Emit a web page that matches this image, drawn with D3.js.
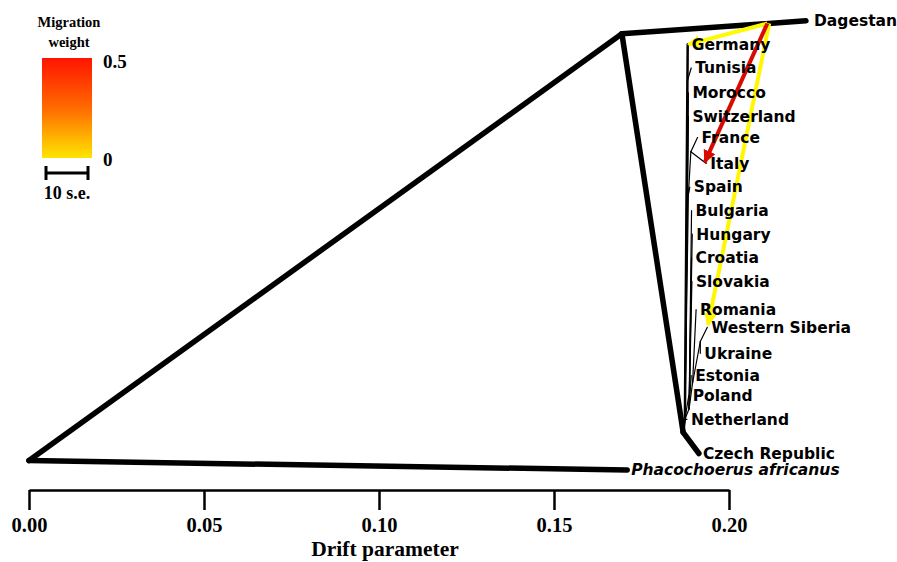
<!DOCTYPE html>
<html><head><meta charset="utf-8">
<script src="https://cdn.jsdelivr.net/npm/d3@7"></script>
<style>body{margin:0;background:#fff}svg{display:block}</style>
</head><body><svg id="c" width="897" height="562"></svg>
<script>
// ---- tree nodes (name, drift, vertical rank) ----
const nodeNames = ["R","Phacochoerus africanus","N1","Dagestan","N2","Czech Republic","N3",
  "Germany","T","Tunisia","Morocco","Switzerland","SP","Spain","FI","France","Italy",
  "B","Bulgaria","Hungary","Croatia","Slovakia","B2","Romania","U","Western Siberia","Ukraine",
  "Estonia","Poland","Netherland"];
const nodeDrift = [0,0.1709,0.1694,0.2220,0.1869,0.1914,0.1874,
  0.1882,0.1881,0.1892,0.1884,0.1884,0.1884,0.1888,0.1891,0.1910,0.1935,
  0.1886,0.1893,0.1895,0.1893,0.1894,0.1896,0.1906,0.1918,0.1938,0.1918,
  0.1892,0.1885,0.1880];
const nodeRank = [18.6,19.0,0.5,-0.05,17.4,18.3,16.85,
  0.95,2.5,1.95,3.0,4.0,7.3,7.0,5.5,4.9,6.0,
  16.4,8.0,9.0,10.0,11.0,15.3,12.2,13.55,12.95,14.05,
  15.0,15.85,16.85];
// ---- tree edges ----
const edgeFrom = ["R","R","N1","N1","N2","N2","N3","N3","T","N3","N3","N3","SP","SP","FI","FI",
  "N3","B","B","B","B","B","B2","B2","U","U","B","N3","N3"];
const edgeTo = ["Phacochoerus africanus","N1","Dagestan","N2","Czech Republic","N3","Germany","T","Tunisia",
  "Morocco","Switzerland","SP","Spain","FI","France","Italy","B","Bulgaria","Hungary","Croatia","Slovakia",
  "B2","Romania","U","Western Siberia","Ukraine","Estonia","Poland","Netherland"];
const leafNames = ["Dagestan","Germany","Tunisia","Morocco","Switzerland","France","Italy","Spain",
  "Bulgaria","Hungary","Croatia","Slovakia","Romania","Western Siberia","Ukraine","Estonia","Poland",
  "Netherland","Czech Republic","Phacochoerus africanus"];
// ---- migration edges ----
const migSourceEdge = ["Dagestan","Dagestan","Dagestan"];
const migSourceFrac = [0.79,0.80,0.79];
const migTargetDrift = [0.1884,0.1940,0.1931];
const migTargetRank = [0.95,12.85,5.94];
const migWeight = [0.01,0.02,0.48];
const xTicks = [0,0.05,0.10,0.15,0.20];

const svg = d3.select("#c");
const x = d3.scaleLinear().domain([0,0.2]).range([29,729]);
const y = d3.scaleLinear().domain([0,19]).range([22,470]);
const node = {};
nodeNames.forEach((n,i)=>node[n]={d:nodeDrift[i],r:nodeRank[i]});

const thick = new Set(["R>Phacochoerus africanus","R>N1","N1>Dagestan","N1>N2","N2>Czech Republic"]);
const medium = new Set(["N2>N3","N3>Germany"]);
const edges = edgeFrom.map((f,i)=>({f,t:edgeTo[i]}));
svg.append("g").selectAll("line").data(edges).join("line")
  .attr("x1",e=>x(node[e.f].d)).attr("y1",e=>y(node[e.f].r))
  .attr("x2",e=>x(node[e.t].d)).attr("y2",e=>y(node[e.t].r))
  .attr("stroke","#000")
  .attr("stroke-width",e=>{const k=e.f+">"+e.t;return thick.has(k)?5.5:medium.has(k)?2.5:1.2;})
  .attr("stroke-linecap","round");

// migration
const mcol = d3.scaleLinear().domain([0,0.25,0.5]).range(["#ffff00","#ff8c00","#d40000"]);
const defs = svg.append("defs");
const migs = migWeight.map((w,i)=>{
  const e = edges.find(q=>q.t===migSourceEdge[i]);
  const a=node[e.f], b=node[e.t], fr=migSourceFrac[i];
  return {w, sd:a.d+(b.d-a.d)*fr, sr:a.r+(b.r-a.r)*fr, td:migTargetDrift[i], tr:migTargetRank[i], i};
});
migs.forEach(m=>{
  defs.append("marker").attr("id","ah"+m.i).attr("viewBox","0 0 10 10").attr("refX",9).attr("refY",5)
    .attr("markerWidth",3.2).attr("markerHeight",3.2).attr("orient","auto").attr("markerUnits","strokeWidth")
    .append("path").attr("d","M0,0 L10,5 L0,10 z").attr("fill",mcol(m.w));
});
svg.append("g").selectAll("line").data(migs).join("line")
  .attr("x1",m=>x(m.sd)).attr("y1",m=>y(m.sr)).attr("x2",m=>x(m.td)).attr("y2",m=>y(m.tr))
  .attr("stroke",m=>mcol(m.w)).attr("stroke-width",4)
  .attr("marker-end",m=>"url(#ah"+m.i+")");

// leaf labels
svg.append("g").selectAll("text").data(leafNames).join("text")
  .attr("x",n=>x(node[n].d)+(n==="Dagestan"?8:4)).attr("y",n=>y(node[n].r))
  .attr("dy","0.35em")
  .attr("font-family","'DejaVu Sans',Verdana,sans-serif").attr("font-weight","bold").attr("font-size",15.5)
  .attr("font-style",n=>n==="Phacochoerus africanus"?"italic":"normal")
  .text(n=>n);

// axis
const serif = "'Liberation Serif','Times New Roman',serif";
const ax = svg.append("g").attr("transform","translate(0,490)")
  .call(d3.axisBottom(x).tickValues(xTicks).tickFormat(d3.format(".2f")).tickSize(20).tickSizeOuter(0).tickPadding(7));
ax.select(".domain").attr("stroke","#000").attr("stroke-width",2.5);
ax.selectAll(".tick line").attr("stroke","#000").attr("stroke-width",2.5);
ax.selectAll(".tick text").attr("font-family",serif)
  .attr("font-weight","bold").attr("font-size",20.5).attr("fill","#000");
svg.append("text").attr("x",385).attr("y",556).attr("text-anchor","middle")
  .attr("font-family",serif).attr("font-weight","bold")
  .attr("font-size",21.5).text("Drift parameter");

// legend
const lg = defs.append("linearGradient").attr("id","grad").attr("x1",0).attr("y1",0).attr("x2",0).attr("y2",1);
[[0,"#ff1400"],[0.5,"#ff6a00"],[1,"#ffe400"]].forEach(s=>lg.append("stop").attr("offset",s[0]).attr("stop-color",s[1]));
const legendTitle = ["Migration","weight"];
svg.append("g").selectAll("text").data(legendTitle).join("text")
  .attr("x",69).attr("y",(d,i)=>27+i*20).attr("text-anchor","middle")
  .attr("font-family",serif).attr("font-weight","bold").attr("font-size",14.5).text(d=>d);
const wScale = d3.scaleLinear().domain([0,0.5]).range([158,58]);
svg.append("rect").attr("x",42).attr("y",wScale(0.5)).attr("width",50).attr("height",wScale(0)-wScale(0.5)).attr("fill","url(#grad)");
const legendTicks = [0,0.5];
svg.append("g").selectAll("text").data(legendTicks).join("text")
  .attr("x",103).attr("y",d=>wScale(d)+(d===0?8:10)).attr("font-family",serif).attr("font-weight","bold")
  .attr("font-size",19).text(d=>d===0?"0":"0.5");
const sb = svg.append("g").attr("stroke","#000").attr("stroke-width",3);
sb.append("line").attr("x1",46).attr("x2",88).attr("y1",173).attr("y2",173);
sb.append("line").attr("x1",46).attr("x2",46).attr("y1",166).attr("y2",180);
sb.append("line").attr("x1",88).attr("x2",88).attr("y1",166).attr("y2",180);
svg.append("text").attr("x",67).attr("y",199).attr("text-anchor","middle").attr("font-family",serif)
  .attr("font-weight","bold").attr("font-size",18).text("10 s.e.");
</script></body></html>
